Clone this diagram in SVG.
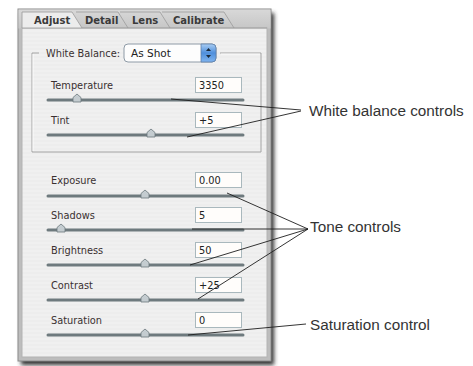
<svg xmlns="http://www.w3.org/2000/svg" width="473" height="366" viewBox="0 0 473 366">
<defs>
<style>
.lbl{font-family:"DejaVu Sans",sans-serif;font-size:9.8px;fill:#3a3030}
.val{font-family:"DejaVu Sans",sans-serif;font-size:9.8px;fill:#222}
.tab{font-family:"DejaVu Sans",sans-serif;font-size:10px;font-weight:bold;fill:#3a3a3a}
.note{font-family:"Liberation Sans",Arial,sans-serif;font-size:15.3px;fill:#333}
.box{fill:#fffdfb;stroke:#a9b8bd;stroke-width:1}
.track{stroke:#6e7a7e;stroke-width:3;stroke-linecap:round}
.thumb{fill:#c4ccd0;stroke:#6b777c;stroke-width:0.8}
.conn line{stroke:#1e1e1e;stroke-width:0.9}
</style>
<filter id="sh" x="-10%" y="-10%" width="120%" height="120%"><feGaussianBlur stdDeviation="2"/></filter>
<linearGradient id="blue" x1="0" y1="0" x2="0" y2="1"><stop offset="0" stop-color="#a9cdf3"/><stop offset="0.5" stop-color="#4f8fdc"/><stop offset="1" stop-color="#7fb4ef"/></linearGradient>
<linearGradient id="tabg" x1="0" y1="0" x2="0" y2="1"><stop offset="0" stop-color="#d8d8d8"/><stop offset="1" stop-color="#c6c6c6"/></linearGradient>
<pattern id="stripes" width="4" height="4" patternUnits="userSpaceOnUse"><rect width="4" height="4" fill="#f0f0f0"/><rect width="4" height="2" fill="#ededed"/></pattern>
<path id="th" d="M0,-6 L4,-2.5 L4,2 L-4,2 L-4,-2.5 Z"/>
</defs>

<g id="window">
<rect x="21" y="13" width="253" height="352" fill="#333" filter="url(#sh)"/>
<rect x="18" y="9" width="253" height="352" fill="#bdbdbd" stroke="#8c8c8c"/>
<rect x="18.5" y="9.5" width="252" height="19" fill="url(#tabg)"/>
<rect x="22" y="28" width="245" height="329" fill="url(#stripes)" stroke="#b4b4b4"/>
</g>

<g id="tabs">
<path d="M22,28 V12 H72 L82,28 Z" fill="#ececec" stroke="#9a9a9a" stroke-width="0.8"/>
<path d="M76,12 H118 L128,28" fill="none" stroke="#9a9a9a" stroke-width="0.8"/>
<path d="M120,12 H160 L170,28" fill="none" stroke="#9a9a9a" stroke-width="0.8"/>
<path d="M162,12 H224 L234,28" fill="none" stroke="#9a9a9a" stroke-width="0.8"/>
<line x1="82" y1="28" x2="267" y2="28" stroke="#9a9a9a" stroke-width="0.8"/>
<text class="tab" x="34" y="24">Adjust</text>
<text class="tab" x="85" y="24">Detail</text>
<text class="tab" x="132" y="24">Lens</text>
<text class="tab" x="173" y="24">Calibrate</text>
</g>

<g id="white-balance-group">
<path d="M39,53 H32 V152 H261 V53 H220" fill="none" stroke="#a4a4a4"/>
<path d="M33,54 V151 M221,54 H260" fill="none" stroke="#ffffff" stroke-width="0.8"/>
<text class="lbl" x="46" y="57">White Balance:</text>
<g id="dropdown">
<rect x="124" y="44" width="92" height="18" rx="4" fill="#fdfdfd" stroke="#8e9aa6"/>
<path d="M201,44 H212 a4,4 0 0 1 4,4 V58 a4,4 0 0 1 -4,4 H201 Z" fill="url(#blue)" stroke="#5d7fa8" stroke-width="0.8"/>
<path d="M206,51 L208.5,48 L211,51 Z M206,55 L211,55 L208.5,58 Z" fill="#1a2a3a"/>
<text class="val" x="131" y="57" style="font-size:10.5px">As Shot</text>
</g>
</g>

<g id="temperature">
<text class="lbl" x="51" y="89">Temperature</text>
<rect class="box" x="195.5" y="77.5" width="46" height="15"/>
<text class="val" x="199" y="89">3350</text>
<line class="track" x1="48" y1="100" x2="243" y2="100"/>
<use href="#th" class="thumb" x="77" y="100"/>
</g>

<g id="tint">
<text class="lbl" x="51" y="124">Tint</text>
<rect class="box" x="195.5" y="112.5" width="46" height="15"/>
<text class="val" x="199" y="124">+5</text>
<line class="track" x1="48" y1="135" x2="243" y2="135"/>
<use href="#th" class="thumb" x="151" y="135"/>
</g>

<g id="exposure">
<text class="lbl" x="51" y="184">Exposure</text>
<rect class="box" x="195.5" y="172.5" width="46" height="15"/>
<text class="val" x="199" y="184">0.00</text>
<line class="track" x1="48" y1="196" x2="243" y2="196"/>
<use href="#th" class="thumb" x="145" y="196"/>
</g>

<g id="shadows">
<text class="lbl" x="51" y="219">Shadows</text>
<rect class="box" x="195.5" y="207.5" width="46" height="15"/>
<text class="val" x="199" y="219">5</text>
<line class="track" x1="48" y1="230" x2="243" y2="230"/>
<use href="#th" class="thumb" x="61" y="230"/>
</g>

<g id="brightness">
<text class="lbl" x="51" y="254">Brightness</text>
<rect class="box" x="195.5" y="242.5" width="46" height="15"/>
<text class="val" x="199" y="254">50</text>
<line class="track" x1="48" y1="265" x2="243" y2="265"/>
<use href="#th" class="thumb" x="145" y="265"/>
</g>

<g id="contrast">
<text class="lbl" x="51" y="289">Contrast</text>
<rect class="box" x="195.5" y="277.5" width="46" height="15"/>
<text class="val" x="199" y="289">+25</text>
<line class="track" x1="48" y1="300" x2="243" y2="300"/>
<use href="#th" class="thumb" x="145" y="300"/>
</g>

<g id="saturation">
<text class="lbl" x="51" y="324">Saturation</text>
<rect class="box" x="195.5" y="312.5" width="46" height="15"/>
<text class="val" x="199" y="324">0</text>
<line class="track" x1="48" y1="335" x2="243" y2="335"/>
<use href="#th" class="thumb" x="145" y="335"/>
</g>

<g id="connectors" class="conn">
<line x1="171" y1="99" x2="301" y2="110"/>
<line x1="187" y1="137" x2="301" y2="111"/>
<line x1="227" y1="193" x2="308" y2="229"/>
<line x1="192" y1="229" x2="308" y2="229"/>
<line x1="190" y1="265" x2="308" y2="229"/>
<line x1="198" y1="299" x2="308" y2="229"/>
<line x1="188" y1="335" x2="306" y2="324"/>
</g>

<g id="annotations">
<text class="note" x="309" y="116">White balance controls</text>
<text class="note" x="310" y="232">Tone controls</text>
<text class="note" x="310" y="330">Saturation control</text>
</g>
</svg>
